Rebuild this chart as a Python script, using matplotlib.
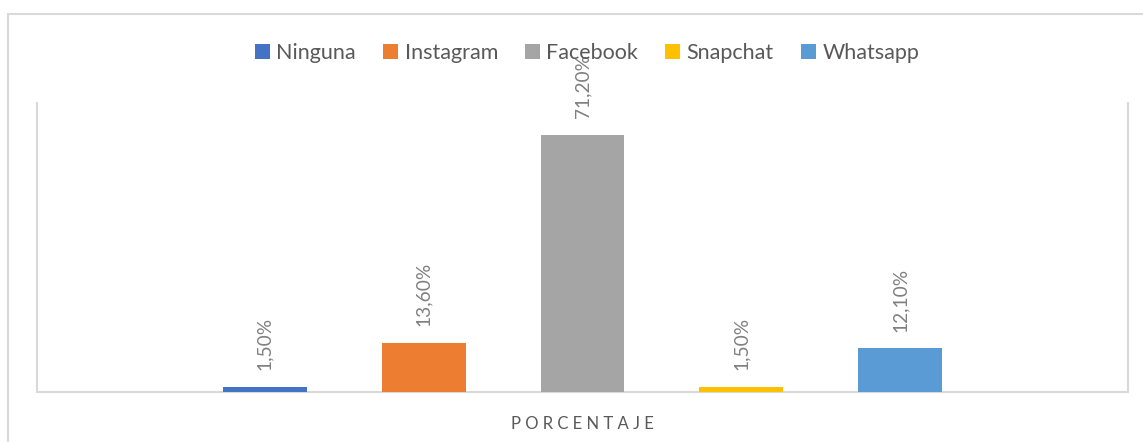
import matplotlib
matplotlib.use("Agg")
import matplotlib.pyplot as plt
from matplotlib.patches import Rectangle, Patch

# Data
categories = ["Ninguna", "Instagram", "Facebook", "Snapchat", "Whatsapp"]
values = [1.5, 13.6, 71.2, 1.5, 12.1]
labels = ["1,50%", "13,60%", "71,20%", "1,50%", "12,10%"]
colors = ["#4472C4", "#ED7D31", "#A5A5A5", "#FFC000", "#5B9BD5"]
axis_title = "PORCENTAJE"

plt.rcParams['font.family'] = ['Lato', 'DejaVu Sans']

W, H = 1143, 442
fig = plt.figure(figsize=(W / 100, H / 100), dpi=100)
fig.patch.set_facecolor("white")

# outer chart border
fig.patches.append(Rectangle((7.5 / W, -0.1), 1.2, (H - 13.5) / H + 0.1,
                             transform=fig.transFigure, fill=False,
                             edgecolor="#d9d9d9", linewidth=1.5))

left, right, bottom, top = 37, 1128, 392, 103
ax = fig.add_axes([left / W, (H - bottom) / H, (right - left) / W, (bottom - top) / H])

x = list(range(len(categories)))
ax.bar(x, values, width=84 / 159, color=colors, zorder=3)
ax.set_xlim(-1.434, 4 + 1.434)
ax.set_ylim(0, 80)

for xi, v, lab in zip(x, values, labels):
    ax.annotate(lab, (xi, v), xytext=(0, 12), textcoords="offset points",
                rotation=90, ha="center", va="bottom", fontsize=13.8,
                color="#808080")

for s in ["left", "right", "bottom"]:
    ax.spines[s].set_color("#d9d9d9")
    ax.spines[s].set_linewidth(1.5)
ax.spines["top"].set_visible(False)
ax.set_xticks([])
ax.set_yticks([])

ax.set_xlabel(" ".join(axis_title), fontsize=12, color="#595959", labelpad=17)

handles = [Patch(facecolor=c, edgecolor="none") for c in colors]
fig.legend(handles, categories, loc="center", bbox_to_anchor=(587 / W, (H - 53) / H),
           ncol=5, frameon=False, fontsize=15.5, labelcolor="#595959",
           handlelength=0.7, handleheight=0.7, handletextpad=0.3, columnspacing=1.25)

fig.savefig("out.png", dpi=100)
